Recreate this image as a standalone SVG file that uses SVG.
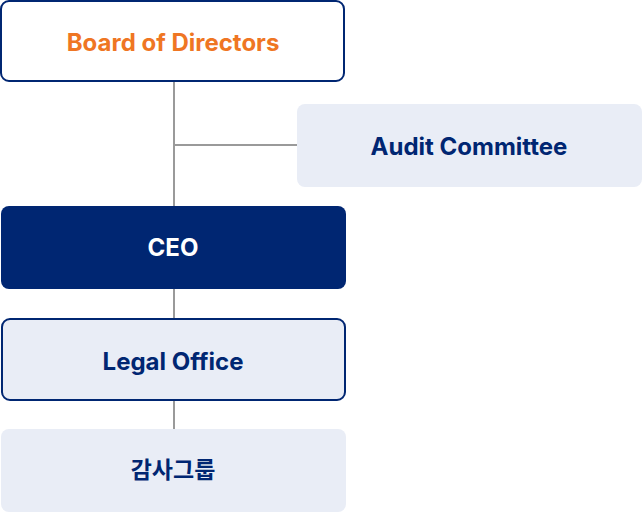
<svg xmlns="http://www.w3.org/2000/svg" width="642" height="512" viewBox="0 0 642 512">
<style>
.t{font-family:Inter,"Noto Sans CJK KR",sans-serif;font-size:24px;font-weight:700;text-anchor:middle;dominant-baseline:central}
.k{font-size:23px}
.n{fill:#002672}
.line{stroke:#9a9a9a;stroke-width:2;fill:none}
</style>
<g id="connectors">
<line class="line" x1="174" y1="81" x2="174" y2="206"/>
<line class="line" x1="174" y1="145" x2="297" y2="145"/>
<line class="line" x1="174" y1="288" x2="174" y2="319"/>
<line class="line" x1="174" y1="400" x2="174" y2="429"/>
</g>
<g id="board">
<rect x="1" y="1" width="343" height="80" rx="8" fill="#fff" stroke="#002672" stroke-width="2"/>
<text class="t" x="173" y="42" fill="#ef7623">Board of Directors</text>
</g>
<g id="audit">
<rect x="297" y="104" width="345" height="83" rx="8" fill="#e9edf6"/>
<text class="t n" x="469" y="146">Audit Committee</text>
</g>
<g id="ceo">
<rect x="1" y="206" width="345" height="83" rx="8" fill="#002672"/>
<text class="t" x="173" y="247" fill="#fff">CEO</text>
</g>
<g id="legal">
<rect x="2" y="319" width="343" height="81" rx="8" fill="#e9edf6" stroke="#002672" stroke-width="2"/>
<text class="t n" x="173" y="361">Legal Office</text>
</g>
<g id="audit-group">
<rect x="1" y="429" width="345" height="83" rx="8" fill="#e9edf6"/>
<text class="t n k" x="173" y="470">감사그룹</text>
</g>
</svg>
